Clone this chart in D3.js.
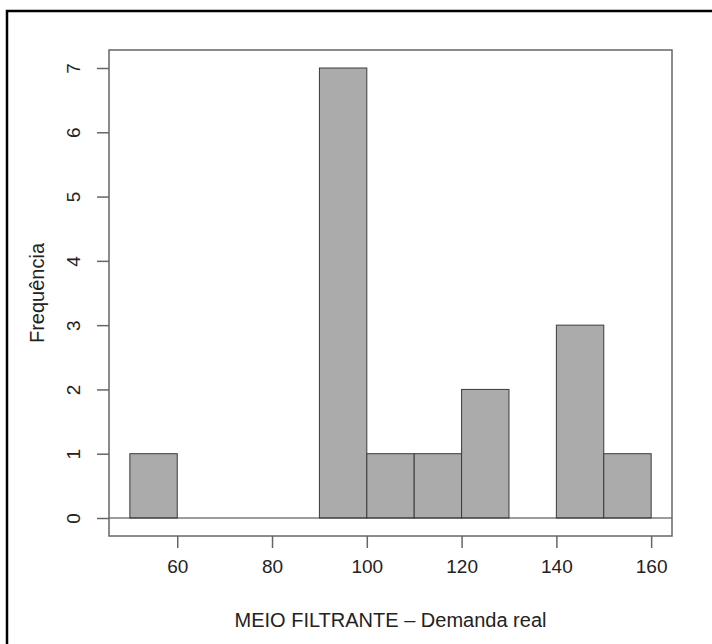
<!DOCTYPE html>
<html lang="pt">
<head>
    <meta charset="UTF-8">
    <title>MEIO FILTRANTE - Demanda real</title>
    <script src="https://cdn.jsdelivr.net/npm/d3@7"></script>
</head>
<style>
    body { margin: 0; background: #fff; }
    .bar { fill: #ababab; stroke: #3a3a3a; stroke-width: 1; }
    .axis text { font-family: "Liberation Sans", Arial, sans-serif; font-size: 19px; fill: #222; }
    .axis path { display: none; }
    .axis line { stroke: #666; stroke-width: 1.5; }
    .lab { font-family: "Liberation Sans", Arial, sans-serif; font-size: 20px; fill: #222; text-anchor: middle; }
</style>
<body>
<script>
    var width = 712;
    var height = 644;

    // histogram data
    var breaks = [50, 60, 70, 80, 90, 100, 110, 120, 130, 140, 150, 160];
    var counts = [1, 0, 0, 0, 7, 1, 1, 2, 0, 3, 1];
    var xTicks = [60, 80, 100, 120, 140, 160];
    var yTicks = [0, 1, 2, 3, 4, 5, 6, 7];

    var box = {left: 109, right: 672, top: 50, bottom: 536};

    var svg = d3.select('body')
        .append('svg')
        .attr('width', width)
        .attr('height', height);

    // outer frame (only top/left edges visible, rest is cropped)
    svg.append('path')
        .attr('d', 'M7,' + (height + 5) + 'V11H' + (width + 5))
        .attr('fill', 'none')
        .attr('stroke', '#000')
        .attr('stroke-width', 2.5);

    var xMin = d3.min(breaks), xMax = d3.max(breaks);
    var xPad = (xMax - xMin) * 0.04;
    var xScale = d3.scaleLinear()
        .domain([xMin - xPad, xMax + xPad])
        .range([box.left, box.right]);

    var yMax = d3.max(counts);
    var yScale = d3.scaleLinear()
        .domain([-yMax * 0.04, yMax * 1.04])
        .range([box.bottom, box.top]);

    var bins = counts.map(function (c, i) {
        return {x0: breaks[i], x1: breaks[i + 1], n: c};
    });

    svg.selectAll('.bar')
        .data(bins.filter(function (d) { return d.n > 0; }))
        .enter()
        .append('rect')
        .attr('class', 'bar')
        .attr('x', function (d) { return xScale(d.x0); })
        .attr('y', function (d) { return yScale(d.n); })
        .attr('width', function (d) { return xScale(d.x1) - xScale(d.x0); })
        .attr('height', function (d) { return yScale(0) - yScale(d.n); });

    // zero line
    svg.append('line')
        .attr('x1', box.left).attr('x2', box.right)
        .attr('y1', yScale(0)).attr('y2', yScale(0))
        .attr('stroke', '#3a3a3a').attr('stroke-width', 1.2);

    // plot box
    svg.append('rect')
        .attr('x', box.left).attr('y', box.top)
        .attr('width', box.right - box.left)
        .attr('height', box.bottom - box.top)
        .attr('fill', 'none')
        .attr('stroke', '#666')
        .attr('stroke-width', 1.5);

    var xAxis = d3.axisBottom(xScale).tickValues(xTicks).tickSize(12).tickPadding(12);
    var gx = svg.append('g')
        .attr('class', 'axis')
        .attr('transform', 'translate(0,' + box.bottom + ')')
        .call(xAxis);
    gx.selectAll('text').attr('dy', '0.71em');

    var yAxis = d3.axisLeft(yScale).tickValues(yTicks).tickSize(12);
    var gy = svg.append('g')
        .attr('class', 'axis')
        .attr('transform', 'translate(' + box.left + ',0)')
        .call(yAxis);
    gy.selectAll('text')
        .attr('x', null).attr('dy', null)
        .attr('text-anchor', 'middle')
        .attr('transform', function () { return 'translate(-29,0) rotate(-90)'; });

    svg.append('text')
        .attr('class', 'lab')
        .attr('x', (box.left + box.right) / 2)
        .attr('y', 627)
        .text('MEIO FILTRANTE – Demanda real');

    svg.append('text')
        .attr('class', 'lab')
        .attr('transform', 'translate(44,' + (box.top + box.bottom) / 2 + ') rotate(-90)')
        .text('Frequência');
</script>
</body>
</html>
